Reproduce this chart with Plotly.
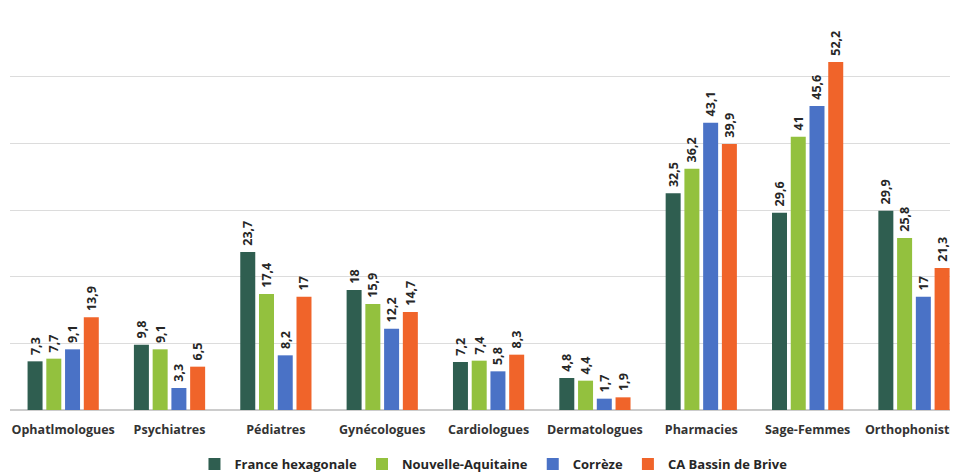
import plotly.graph_objects as go

categories = ["Ophatlmologues", "Psychiatres", "Pédiatres", "Gynécologues", "Cardiologues",
              "Dermatologues", "Pharmacies", "Sage-Femmes", "Orthophonistes"]
france = [7.3, 9.8, 23.7, 18, 7.2, 4.8, 32.5, 29.6, 29.9]
nouvelle_aquitaine = [7.7, 9.1, 17.4, 15.9, 7.4, 4.4, 36.2, 41, 25.8]
correze = [9.1, 3.3, 8.2, 12.2, 5.8, 1.7, 43.1, 45.6, 17]
brive = [13.9, 6.5, 17, 14.7, 8.3, 1.9, 39.9, 52.2, 21.3]

series = [
    ("France hexagonale", france, "#2f5e50"),
    ("Nouvelle-Aquitaine", nouvelle_aquitaine, "#93c13e"),
    ("Corrèze", correze, "#4a72c6"),
    ("CA Bassin de Brive", brive, "#f0642a"),
]

def fmt(v):
    return "\u00a0" + f"{v:g}".replace(".", ",")

fig = go.Figure()
for name, vals, col in series:
    fig.add_trace(go.Bar(
        x=categories, y=vals, name=name,
        marker=dict(color=col, line=dict(width=0)),
        text=[fmt(v) for v in vals],
        textposition="outside", textangle=-90, constraintext="none",
        textfont=dict(family="Open Sans", size=12.5, color="#262626", weight="bold"),
        cliponaxis=False,
    ))

# page body has an 8px margin, so the figure is sized to fit the 958x473 window
fig.update_layout(
    width=950, height=465,
    margin=dict(l=2, r=0, t=2, b=63, autoexpand=False),
    paper_bgcolor="white", plot_bgcolor="white",
    barmode="group", bargap=0.295, bargroupgap=0.2,
    font=dict(family="Open Sans", color="#262626"),
    showlegend=True,
    legend=dict(orientation="h", x=0.51, xanchor="center", y=-0.0975, yanchor="top",
                font=dict(size=13, family="Open Sans", color="#262626", weight="bold"),
                traceorder="normal", itemwidth=30, tracegroupgap=0),
    xaxis=dict(tickfont=dict(size=12.5, family="Open Sans", color="#333333", weight="bold"),
               showline=False, ticks="", showgrid=False, range=[-0.5, 8.414],
               autorange=False, ticklabelstandoff=10),
    yaxis=dict(range=[0, 60], dtick=10, showticklabels=False, showgrid=True,
               gridcolor="#dcdcdc", gridwidth=1, zeroline=True, zerolinecolor="#cccccc",
               showline=False),
)

fig.write_html("out.html")
